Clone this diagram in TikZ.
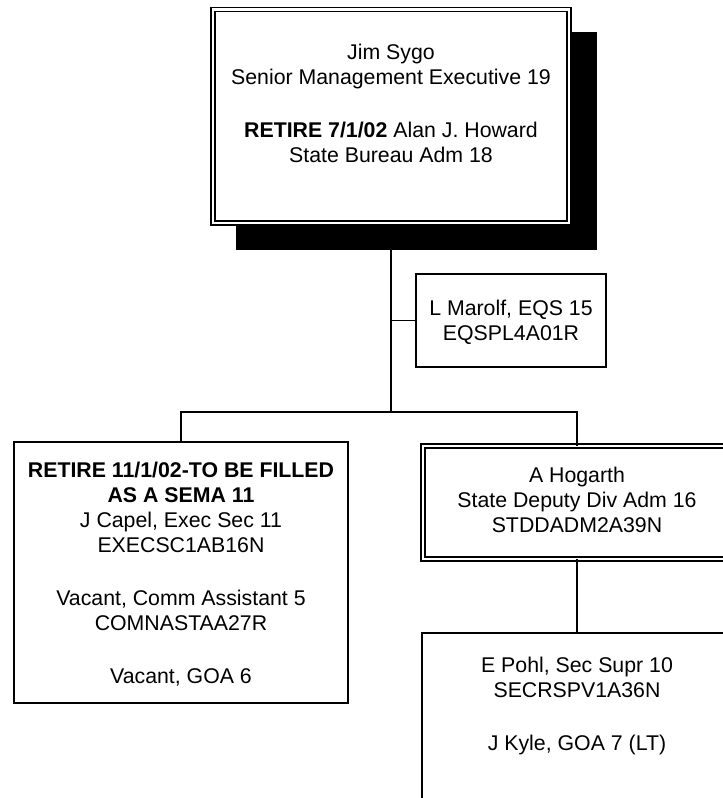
\documentclass[tikz,border=0pt]{standalone}
\usepackage{fontspec}
\setmainfont{Liberation Sans}
\newcommand{\fstrut}{\rule{0pt}{17pt}}
\begin{document}
\begin{tikzpicture}[x=1pt,y=-1pt,
  every node/.style={inner sep=0pt, outer sep=0pt},
  sbox/.style={draw, line width=1.9pt, fill=white, rectangle},
  dbox/.style={draw, line width=1.6pt, double=white, double distance=2.4pt, fill=white, rectangle},
  conn/.style={line width=1.9pt, line join=miter},
  txt/.style={align=center, anchor=north, font=\fontsize{21.3}{25}\selectfont}]
\useasboundingbox (0,0) rectangle (723,798);
\clip (0,0) rectangle (723,798);
% junction coordinates
\coordinate (jm) at (391,320.5);
\coordinate (jc) at (391,412);
\coordinate (jl) at (181,412);
\coordinate (jr) at (577,412);
% boxes
\node[sbox, minimum width=190pt, minimum height=93pt] (marolf) at (511,320.5) {};
\node[sbox, minimum width=334pt, minimum height=261pt] (left) at (181,572.5) {};
\node[dbox, minimum width=308pt, minimum height=113pt] (hog) at (577,502.5) {};
\node[sbox, minimum width=310pt, minimum height=250pt] (pohl) at (577,758) {};
% connectors
\draw[conn] (391,200) -- (jc);
\draw[conn] (jm) -- (marolf.west);
\draw[conn] (left.north) -- (jl) -- (jr) -- (hog.north);
\draw[conn] (hog.south) -- (pohl.north);
% shadow and top box
\fill[black] (236,32) rectangle (597,250);
\node[dbox, minimum width=356pt, minimum height=213.5pt] (top) at (391,116.25) {};
% texts
\node[txt] (toptxt) at (391,42) {\fstrut Jim Sygo\\ Senior Management Executive 19\\[28pt] \textbf{RETIRE 7/1/02} Alan J. Howard\\ State Bureau Adm 18};
\node[txt] (maroltxt) at (511,298) {\fstrut L Marolf, EQS 15\\ EQSPL4A01R};
\node[txt] (lefttxt) at (181,460) {\fstrut\textbf{RETIRE 11/1/02-TO BE FILLED}\\ \textbf{AS A SEMA 11}\\ J Capel, Exec Sec 11\\ EXECSC1AB16N\\[28pt] Vacant, Comm Assistant 5\\ COMNASTAA27R\\[28pt] Vacant, GOA 6};
\node[txt] (hogtxt) at (577,465) {\fstrut A Hogarth\\ State Deputy Div Adm 16\\ STDDADM2A39N};
\node[txt] (pohltxt) at (577,655) {\fstrut E Pohl, Sec Supr 10\\ SECRSPV1A36N\\[28pt] J Kyle, GOA 7 (LT)};
\end{tikzpicture}
\end{document}
